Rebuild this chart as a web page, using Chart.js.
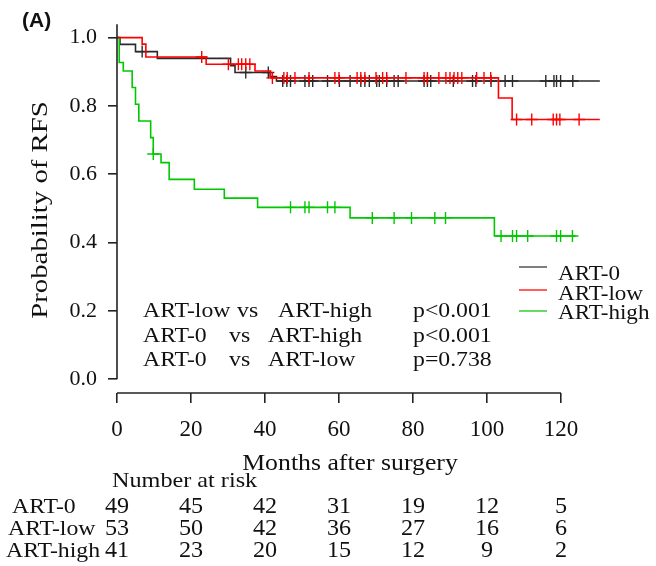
<!DOCTYPE html>
<html lang="en">
<head>
<meta charset="UTF-8"/>
<title>RFS by ART group</title>
<script src="https://cdn.jsdelivr.net/npm/chart.js@4.4.2/dist/chart.umd.min.js"></script>
<style>
html,body{margin:0;padding:0;background:#fff}
canvas{display:block}
</style>
</head>
<body>
<canvas id="km" width="656" height="566"></canvas>
<script>
const groups=["ART-0","ART-low","ART-high"];
const colors=["#2a2a2a","#ff0000","#00c800"];
const legendColors=["#555555","#ff2a2a","#33cc33"];

// steps: time in months, survival after the step
const t0=[0,0.8,5.0,10.9,30.7,31.9,41.4,43.1,130.5];
const s0=[1,0.980,0.959,0.939,0.918,0.898,0.886,0.873,0.873];
const c0=[6.8,34.8,40.9,44.8,45.9,46.9,50.8,51.9,52.9,56.9,60.1,63.0,65.9,67.0,68.2,70.2,70.9,72.9,74.9,76.0,83.0,83.9,84.8,90.9,96.1,97.0,101.1,104.9,106.9,115.9,118.1,118.8,119.9,123.2];

const tLow=[0,6.8,7.8,24.1,37.3,41.5,103.1,106.8,130.5];
const sLow=[1,0.981,0.943,0.922,0.902,0.882,0.823,0.760,0.760];
const cLow=[22.9,30.1,32.8,33.7,34.8,35.9,42.0,45.1,46.0,48.1,51.9,58.9,60.0,64.9,65.9,67.0,70.0,71.8,72.9,78.1,83.0,83.9,87.0,88.9,90.0,91.1,92.1,93.2,97.2,99.2,101.0,108.0,112.1,117.9,118.8,119.7,124.9];

const tHigh=[0,0.6,1.7,4.1,5.0,5.9,9.1,9.8,11.9,14.1,20.9,29.0,38.0,63.0,102.0,124.0];
const sHigh=[1,0.927,0.902,0.854,0.805,0.756,0.707,0.659,0.634,0.585,0.556,0.530,0.503,0.472,0.419,0.419];
const cHigh=[9.8,46.9,50.8,51.9,56.9,58.9,69.0,74.9,79.6,85.9,88.8,103.8,106.9,108.0,111.0,118.8,119.9,123.1];

const xTicks=[0,20,40,60,80,100,120];
const yTicks=[0,0.2,0.4,0.6,0.8,1.0];
const risk0=[49,45,42,31,19,12,5];
const riskLow=[53,50,42,36,27,16,6];
const riskHigh=[41,23,20,15,12,9,2];
const tests=[["ART-low","vs","ART-high","p<0.001"],["ART-0","vs","ART-high","p<0.001"],["ART-0","vs","ART-low","p=0.738"]];

const SERIF='"Liberation Serif","Times New Roman",serif';
const steps=[[t0,s0,c0],[tLow,sLow,cLow],[tHigh,sHigh,cHigh]];
const levelAt=(ts,ss,t)=>{let v=ss[0];ts.forEach((x,i)=>{if(x<=t)v=ss[i];});return v;};

const datasets=[];
steps.forEach(([ts,ss,cs],g)=>{
  const ord=g===0?3:g===1?1:2;
  datasets.push({label:groups[g],data:ts.map((x,i)=>({x,y:ss[i]})),showLine:true,stepped:true,
    borderColor:colors[g],borderWidth:1.6,pointRadius:0,order:ord});
  datasets.push({label:groups[g]+" censored",data:cs.map(x=>({x,y:levelAt(ts,ss,x)})),showLine:false,
    pointStyle:'cross',pointRadius:6,borderColor:colors[g],borderWidth:1.4,order:ord});
});

function txt(ctx,s,x,y,size,align,sx){
  ctx.save();ctx.font=size+'px '+SERIF;ctx.fillStyle='#111';
  ctx.translate(x,y);ctx.scale(sx||1.08,1);ctx.textAlign=align||'left';ctx.textBaseline='alphabetic';
  ctx.fillText(s,0,0);ctx.restore();
}

const extras={id:'extras',afterDraw(chart){
  const ctx=chart.ctx,xs=chart.scales.x,ys=chart.scales.y,a=chart.chartArea;
  ctx.save();ctx.strokeStyle='#222';ctx.lineWidth=1.6;
  ctx.beginPath();ctx.moveTo(a.left,a.top);ctx.lineTo(a.left,ys.getPixelForValue(0));ctx.stroke();
  ctx.beginPath();ctx.moveTo(xs.getPixelForValue(0),a.bottom);ctx.lineTo(xs.getPixelForValue(120),a.bottom);ctx.stroke();
  ctx.restore();

  ctx.save();ctx.font='bold 21px "Liberation Sans",Arial,sans-serif';ctx.fillStyle='#111';ctx.textBaseline='middle';
  ctx.fillText('(A)',22,21);ctx.restore();

  ctx.save();ctx.font='24px '+SERIF;ctx.fillStyle='#111';ctx.translate(41,210);ctx.rotate(-Math.PI/2);
  ctx.scale(1.2,1);ctx.textAlign='center';ctx.textBaseline='middle';ctx.fillText('Probability of RFS',0,0);ctx.restore();

  txt(ctx,'Months after surgery',350,470,23,'center',1.12);

  const ly=[267,290,311],tb=[280,300,319];
  groups.forEach((g,i)=>{
    ctx.save();ctx.strokeStyle=legendColors[i];ctx.lineWidth=1.5;
    ctx.beginPath();ctx.moveTo(519,ly[i]);ctx.lineTo(547,ly[i]);ctx.stroke();ctx.restore();
    txt(ctx,g,558,tb[i],22,'left',1.05);
  });

  const cols=[[143,237,278,413],[143,229,268,413],[143,229,268,413]],rb=[317,342,366];
  tests.forEach((row,r)=>row.forEach((s,c)=>txt(ctx,s,cols[r][c],rb[r],22)));

  txt(ctx,'Number at risk',112,487,22,'left',1.1);
  const risks=[risk0,riskLow,riskHigh],lx=[12,8,6],rowY=[513,535,557];
  risks.forEach((row,r)=>{
    txt(ctx,groups[r],lx[r],rowY[r],22,'left',1.08);
    row.forEach((n,i)=>txt(ctx,String(n),xs.getPixelForValue(xTicks[i]),rowY[r],23,'center',1.05));
  });
}};

new Chart(document.getElementById('km'),{
  type:'scatter',
  data:{datasets},
  options:{
    responsive:false,animation:false,devicePixelRatio:1,
    layout:{padding:{left:0,top:21,right:51,bottom:0}},
    plugins:{legend:{display:false},tooltip:{enabled:false}},
    scales:{
      x:{type:'linear',min:0,max:131.9,
        afterFit:s=>{s.height=173;},
        afterBuildTicks:s=>{s.ticks=xTicks.map(v=>({value:v}));},
        border:{display:false},
        grid:{drawOnChartArea:false,drawTicks:true,tickLength:10,color:'#222',lineWidth:1.6},
        ticks:{autoSkip:false,maxRotation:0,padding:13,color:'#111',font:{family:SERIF,size:23},callback:v=>String(v)}},
      y:{type:'linear',min:-0.0406,max:1.0392,
        afterFit:s=>{s.width=117;},
        afterBuildTicks:s=>{s.ticks=yTicks.map(v=>({value:v}));},
        border:{display:false},
        grid:{drawOnChartArea:false,drawTicks:true,tickLength:9,color:'#222',lineWidth:1.6},
        ticks:{padding:11,color:'#111',font:{family:SERIF,size:22},callback:v=>v.toFixed(1)}}
    }
  },
  plugins:[extras]
});
</script>
</body>
</html>
